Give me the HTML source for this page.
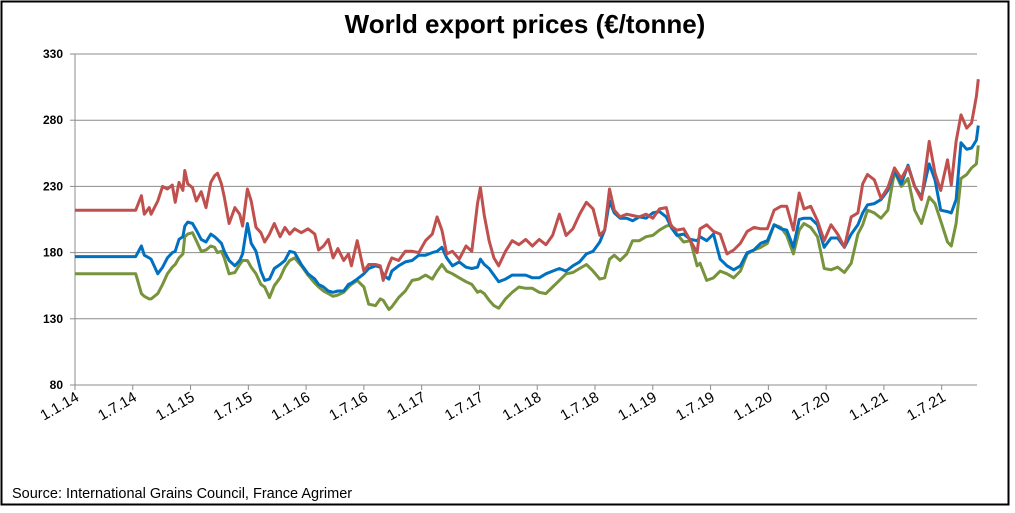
<!DOCTYPE html>
<html><head><meta charset="utf-8"><style>
body{margin:0;background:#fff;}
#wrap{position:relative;width:1015px;height:513px;overflow:hidden;font-family:"Liberation Sans",sans-serif;}
</style></head><body>
<div id="wrap">
<svg id="chart" width="1015" height="513">
<rect x="1.5" y="1.5" width="1007" height="503" fill="#fff" stroke="#000" stroke-width="2"/>
<text x="525" y="33" text-anchor="middle" font-size="26" font-weight="bold" font-family="Liberation Sans, sans-serif">World export prices (€/tonne)</text>
<text x="12" y="498" font-size="14.5" font-family="Liberation Sans, sans-serif">Source: International Grains Council, France Agrimer</text>
<g id="grid"></g><g id="axes"></g><g id="series"></g>
</svg>
</div>
<script>
const dates=[0,6.3,6.9,7.2,7.7,7.9,8.6,9.1,9.6,10.1,10.4,10.8,11.2,11.4,11.7,12.2,12.6,13.1,13.6,14.1,14.5,14.8,15.2,15.5,16.0,16.6,17.1,17.4,17.9,18.3,18.8,19.3,19.7,20.2,20.7,21.3,21.8,22.3,22.8,23.5,24.2,24.9,25.3,25.8,26.3,26.8,27.3,27.9,28.4,28.7,29.3,30.0,30.5,31.2,31.7,32.0,32.6,
32.9,33.6,34.3,35.0,35.7,36.4,37.1,37.6,38.1,38.6,39.2,39.9,40.6,41.2,41.8,42.1,42.5,43.0,43.5,44.0,44.7,45.4,46.1,46.8,47.5,48.2,48.9,49.6,50.3,51.0,51.7,52.4,53.1,53.8,54.5,55.0,55.5,56.0,56.6,57.3,57.9,58.6,59.3,60.0,60.7,61.4,61.9,62.5,63.2,63.9,64.6,
64.9,65.6,66.3,67.0,67.7,68.4,69.1,69.8,70.5,71.2,71.9,72.6,73.3,73.9,74.6,75.2,75.7,76.4,77.1,77.8,78.5,79.2,79.9,80.6,81.3,81.8,82.3,83.0,83.7,84.4,85.1,85.8,86.5,87.2,87.9,88.7,89.3,89.9,90.6,91.0,91.5,92.0,92.6,93.1,93.6,93.8];
const redValues=[212,212,223,209,214,209,219,230,228,231,218,233,227,242,232,229,219,226,214,233,238,240,232,222,202,214,209,200,228,219,199,195,188,194,202,192,199,194,198,195,198,194,182,185,190,176,183,174,179,170,189,166,171,171,170,159,171,
176,174,181,181,180,189,194,207,197,179,181,175,185,181,217,229,208,189,176,170,181,189,186,190,185,190,186,193,209,193,198,209,218,213,193,197,228,212,207,209,208,207,209,206,213,214,200,197,198,189,180,
198,201,196,194,179,182,187,196,199,198,198,212,215,215,197,225,213,215,204,189,201,194,184,207,210,232,239,235,221,229,244,236,245,230,220,264,240,227,250,231,264,284,274,278,298,311];
const blueValues=[177,177,185,178,176,175,164,169,176,180,181,190,192,200,203,202,197,190,188,194,192,190,187,181,174,170,174,179,202,187,181,166,159,160,168,171,174,181,180,171,164,160,156,154,151,150,151,151,156,157,160,164,168,170,169,163,160,
166,170,173,174,178,178,180,181,184,176,170,173,169,168,169,175,171,168,163,158,160,163,163,163,161,161,164,166,168,166,170,173,179,181,188,197,219,210,206,206,204,207,206,210,211,207,199,193,194,190,189,
192,189,194,175,170,167,170,180,182,187,189,201,198,197,184,205,206,206,201,184,191,191,184,194,201,210,216,217,220,227,242,232,246,230,222,247,235,212,211,210,220,263,258,259,265,276];
const greenValues=[164,164,149,147,145,145,149,156,164,169,171,176,179,192,194,195,189,181,182,185,184,180,181,176,164,165,171,174,174,169,164,156,154,146,155,161,169,174,176,170,163,157,154,151,149,147,148,150,154,156,159,154,141,140,145,144,137,
139,146,151,159,160,163,160,166,171,166,164,161,158,156,150,151,149,144,140,138,145,150,154,153,153,150,149,154,159,164,165,168,171,166,160,161,175,178,174,179,189,189,192,193,197,200,201,194,188,189,170,
172,159,161,166,164,161,166,179,182,184,187,201,199,193,179,197,202,199,192,168,167,169,165,172,194,201,212,210,206,212,241,230,236,212,202,222,217,204,188,185,202,236,239,244,247,261];
const yTicks=[80,130,180,230,280,330];
const xTickLabels=["1.1.14","1.7.14","1.1.15","1.7.15","1.1.16","1.7.16","1.1.17","1.7.17","1.1.18","1.7.18","1.1.19","1.7.19","1.1.20","1.7.20","1.1.21","1.7.21"];

const NS="http://www.w3.org/2000/svg";
const X0=75,PX=9.63,Y0=385,Y1=54,VMIN=80,VMAX=330,XEND=977;
function xs(t){return X0+t*PX;}
function ys(v){return Y0-(v-VMIN)/(VMAX-VMIN)*(Y0-Y1);}
function mk(tag,attrs,parent){const e=document.createElementNS(NS,tag);for(const k in attrs)e.setAttribute(k,attrs[k]);parent.appendChild(e);return e;}
const grid=document.getElementById('grid'),axes=document.getElementById('axes'),ser=document.getElementById('series');
yTicks.forEach(v=>{
  const y=ys(v);
  if(v>VMIN){const g=mk('line',{x1:X0,x2:XEND,y1:y,y2:y,stroke:'#8c8c8c','stroke-width':1},grid);
  
  }
  const tk=mk('line',{x1:X0-5,x2:X0,y1:y,y2:y,stroke:'#8c8c8c'},axes);
  
  
  const t=mk('text',{x:X0-12,y:y+4,'text-anchor':'end','font-size':12,'font-weight':'bold','font-family':'Liberation Sans, sans-serif'},axes);
  t.textContent=v;
  
  
});
const ax=mk('line',{x1:X0,x2:X0,y1:Y1,y2:Y0,stroke:'#8c8c8c'},axes);


const bx=mk('line',{x1:X0,x2:XEND,y1:Y0,y2:Y0,stroke:'#8c8c8c'},axes);


xTickLabels.forEach((lab,i)=>{
  const x=xs(i*6);
  const tk=mk('line',{x1:x,x2:x,y1:Y0,y2:Y0+5,stroke:'#8c8c8c'},axes);
  
  
  const ax2=x+5,ay=Y0+15;
  const t=mk('text',{x:ax2,y:ay,'text-anchor':'end','font-size':15,'font-family':'Liberation Sans, sans-serif',transform:'rotate(-30 '+ax2+' '+ay+')'},axes);
  t.textContent=lab;
  
  
});
function line(vals,color,name){
  const d=vals.map((v,i)=>(i?'L':'M')+xs(dates[i]).toFixed(1)+' '+ys(v).toFixed(1)).join(' ');
  const p=mk('path',{d:d,fill:'none',stroke:color,'stroke-width':3,'stroke-linejoin':'round'},ser);
  
  
}
line(greenValues,'#77933c','green-series-line');
line(blueValues,'#0070c0','blue-series-line');
line(redValues,'#c0504d','red-series-line');
</script>
</body></html>
